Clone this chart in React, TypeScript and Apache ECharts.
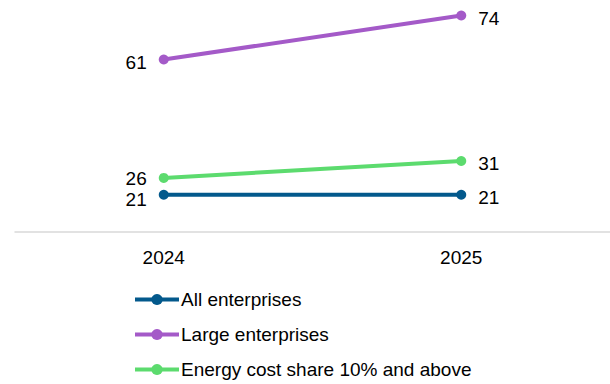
import React, { useEffect, useRef } from "react";
import * as echarts from "echarts";

const years = ["2024", "2025"];
const allEnterprises = [21, 21];
const largeEnterprises = [61, 74];
const energyCostShare = [26, 31];
const seriesNames = ["All enterprises", "Large enterprises", "Energy cost share 10% and above"];
const colors = ["#03598C", "#A45AC8", "#5CDB6E"];

const FONT = "'Liberation Sans', Arial, sans-serif";
const FS = 19;

export default function App() {
  const ref = useRef<HTMLDivElement>(null);
  useEffect(() => {
    if (!ref.current) return;
    const chart = echarts.init(ref.current, null, { renderer: "svg" });
    const makeSeries = (name: string, values: number[], color: string, dy: number) => ({
      name,
      type: "line",
      data: values.map((v, i) => ({
        value: v,
        label: { position: i === 0 ? "left" : "right", offset: [0, i === 0 ? dy : 3] },
      })),
      symbol: "circle",
      symbolSize: 10,
      lineStyle: { color, width: 4 },
      itemStyle: { color },
      label: {
        show: true,
        distance: 12,
        color: "#000",
        fontSize: FS,
        lineHeight: 16,
        fontFamily: FONT,
      },
    });
    chart.setOption({
      animation: false,
      textStyle: { fontFamily: FONT },
      grid: { left: 15, width: 598, top: 2, bottom: 152, containLabel: false },
      xAxis: {
        type: "category",
        data: years,
        boundaryGap: true,
        axisLine: { lineStyle: { color: "#D9D9D9", width: 1.5 } },
        axisTick: { show: false },
        axisLabel: { color: "#000", fontSize: FS, fontFamily: FONT, margin: 16 },
      },
      yAxis: {
        type: "value",
        min: 10,
        max: 78,
        show: false,
        splitLine: { show: false },
      },
      legend: {
        orient: "vertical",
        left: 133,
        top: 290,
        height: 150,
        width: 450,
        padding: 0,
        itemWidth: 44,
        itemHeight: 14,
        itemGap: 16,
        lineStyle: { width: 4 },
        textStyle: {
          color: "#000",
          fontSize: FS,
          lineHeight: 16,
          fontFamily: FONT,
          padding: [0, 0, 0, -3],
        },
        data: seriesNames,
      },
      series: [
        makeSeries(seriesNames[0], allEnterprises, colors[0], 5),
        makeSeries(seriesNames[1], largeEnterprises, colors[1], 3),
        makeSeries(seriesNames[2], energyCostShare, colors[2], 1),
      ],
    });
    return () => chart.dispose();
  }, []);
  return (
    <div
      ref={ref}
      style={{ position: "fixed", left: 0, top: 0, width: 610, height: 384, background: "#fff" }}
    />
  );
}
